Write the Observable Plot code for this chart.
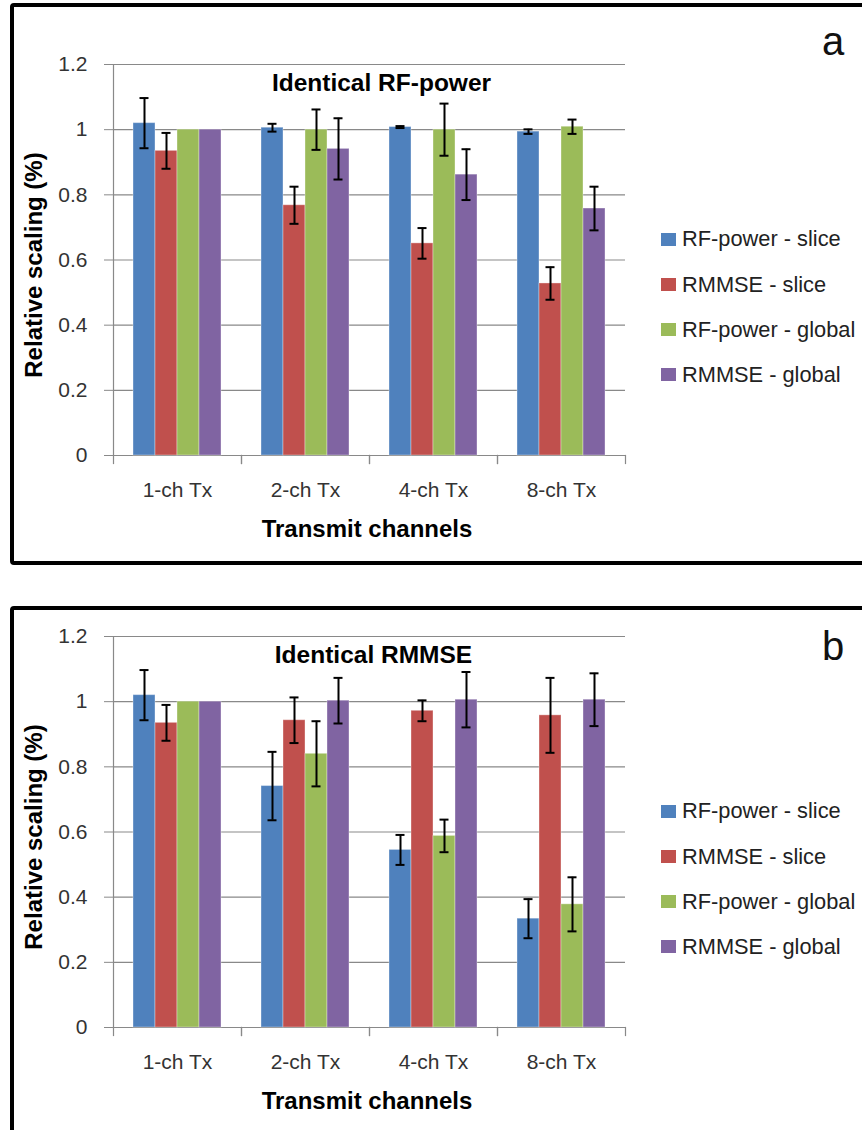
<!DOCTYPE html>
<html>
<head>
<meta charset="utf-8">
<script src="https://cdn.jsdelivr.net/npm/d3@7"></script>
<script src="https://cdn.jsdelivr.net/npm/@observablehq/plot@0.6"></script>
<style>
  html, body { margin: 0; padding: 0; background: #fff; overflow: hidden; }
  body { width: 862px; height: 1130px; position: relative; font-family: "Liberation Sans", Arial, sans-serif; }
  .panel { position: absolute; left: 10px; width: 900px; border: 4px solid #000; border-radius: 4px; box-sizing: border-box; }
  .t { position: absolute; white-space: nowrap; line-height: 1; }
  .chart { position: absolute; left: 0; }
  .sw { position: absolute; width: 15px; height: 13px; }
</style>
</head>
<body>
<script>
// ---------- data ----------
const categories = ["1-ch Tx", "2-ch Tx", "4-ch Tx", "8-ch Tx"];
const series = ["RF-power - slice", "RMMSE - slice", "RF-power - global", "RMMSE - global"];
const colors = ["#4F81BD", "#C0504D", "#9BBB59", "#8064A2"];
const yTicks = [0, 0.2, 0.4, 0.6, 0.8, 1, 1.2];

// Panel a: Identical RF-power (values per series across categories)
const aRfSlice    = [1.020, 1.006, 1.008, 0.994];
const aRmSlice    = [0.935, 0.768, 0.651, 0.528];
const aRfGlobal   = [1.000, 1.000, 1.000, 1.009];
const aRmGlobal   = [1.000, 0.941, 0.862, 0.758];
const aRfSliceErr  = [0.077, 0.012, 0.003, 0.007];
const aRmSliceErr  = [0.055, 0.057, 0.047, 0.050];
const aRfGlobalErr = [0, 0.062, 0.080, 0.022];
const aRmGlobalErr = [0, 0.094, 0.078, 0.067];

// Panel b: Identical RMMSE
const bRfSlice    = [1.020, 0.741, 0.545, 0.334];
const bRmSlice    = [0.935, 0.943, 0.972, 0.958];
const bRfGlobal   = [1.000, 0.840, 0.588, 0.378];
const bRmGlobal   = [1.000, 1.003, 1.006, 1.006];
const bRfSliceErr  = [0.077, 0.105, 0.046, 0.060];
const bRmSliceErr  = [0.055, 0.070, 0.032, 0.115];
const bRfGlobalErr = [0, 0.100, 0.050, 0.083];
const bRmGlobalErr = [0, 0.070, 0.085, 0.081];

const titleA = "Identical RF-power";
const titleB = "Identical RMMSE";
const xTitle = "Transmit channels";
const yTitle = "Relative scaling (%)";

// ---------- helpers ----------
const FONT = '"Liberation Sans", Arial, sans-serif';
const GRID = "#898989";

function buildRows(values, errors) {
  const rows = [];
  categories.forEach((c, ci) => series.forEach((s, si) => {
    rows.push({category: c, series: s, value: values[si][ci], err: errors[si][ci]});
  }));
  return rows;
}

function makeChart(values, errors) {
  const rows = buildRows(values, errors);
  const errRows = rows.filter(d => d.err > 0);
  const H = 560, mt = 64, mb = 105;
  const plotH = H - mt - mb;
  return Plot.plot({
    width: 862, height: H,
    marginTop: mt, marginBottom: mb, marginLeft: 113, marginRight: 237,
    style: {fontFamily: FONT, fontSize: "21px", color: "#333", background: "transparent", overflow: "visible"},
    fx: {domain: categories, padding: 0},
    x: {domain: series, paddingInner: 0, paddingOuter: 0.83, axis: null},
    y: {domain: [0, 1.2]},
    color: {domain: series, range: colors},
    marks: [
      Plot.ruleY(yTicks, {stroke: GRID, strokeWidth: 1.2}),
      Plot.frame({anchor: "left", facetAnchor: "left", stroke: GRID, strokeWidth: 1.2}),
      Plot.frame({anchor: "left", insetTop: plotH, insetBottom: -8, stroke: GRID, strokeWidth: 1.2}),
      Plot.frame({anchor: "right", insetTop: plotH, insetBottom: -8, stroke: GRID, strokeWidth: 1.2}),
      Plot.axisY({ticks: yTicks, tickSize: 9, tickPadding: 17, tickFormat: d => String(d), label: null, stroke: GRID, fill: "#333"}),
      Plot.axisFx({anchor: "bottom", tickSize: 0, tickPadding: 27, label: null, fill: "#333"}),
      Plot.barY(rows, {fx: "category", x: "series", y: "value", fill: "series", stroke: "#fff", strokeOpacity: 0.35, strokeWidth: 1}),
      Plot.ruleX(errRows, {fx: "category", x: "series", y1: d => d.value - d.err, y2: d => d.value + d.err, stroke: "#000", strokeWidth: 2}),
      Plot.tickY(errRows, {fx: "category", x: "series", y: d => d.value + d.err, insetLeft: 6.5, insetRight: 6.5, stroke: "#000", strokeWidth: 2}),
      Plot.tickY(errRows, {fx: "category", x: "series", y: d => d.value - d.err, insetLeft: 6.5, insetRight: 6.5, stroke: "#000", strokeWidth: 2})
    ]
  });
}

function addText(str, x, baseline, size, opts = {}) {
  const el = document.createElement("div");
  el.className = "t";
  el.textContent = str;
  el.style.fontSize = size + "px";
  el.style.fontWeight = opts.bold ? "bold" : "normal";
  el.style.color = opts.color || "#000";
  el.style.top = (baseline - 0.846 * size) + "px";
  el.style.left = x + "px";
  if (opts.anchor === "middle") el.style.transform = "translateX(-50%)";
  document.body.appendChild(el);
  return el;
}

function addRotated(str, cx, cy, size) {
  const el = document.createElement("div");
  el.className = "t";
  el.textContent = str;
  el.style.fontSize = size + "px";
  el.style.fontWeight = "bold";
  el.style.left = cx + "px";
  el.style.top = cy + "px";
  el.style.transform = "translate(-50%,-50%) rotate(-90deg)";
  document.body.appendChild(el);
}

function addLegend(firstCenter, step) {
  series.forEach((s, i) => {
    const cy = firstCenter + i * step;
    const sw = document.createElement("div");
    sw.className = "sw";
    sw.style.left = "661px";
    sw.style.top = (cy - 6.5) + "px";
    sw.style.background = colors[i];
    document.body.appendChild(sw);
    addText(s, 682, cy + 7.7, 21.8, {color: "#222"});
  });
}

function addPanel(top, height, values, errors, title, titleX, letter, letterBaseline) {
  const box = document.createElement("div");
  box.className = "panel";
  box.style.top = top.box + "px";
  box.style.height = height + "px";
  document.body.appendChild(box);

  const wrap = document.createElement("div");
  wrap.className = "chart";
  wrap.style.top = top.svg + "px";
  wrap.appendChild(makeChart(values, errors));
  document.body.appendChild(wrap);

  const o = top.svg;
  addText(title, titleX, o + 92, 24.5, {bold: true, anchor: "middle"});
  addText(xTitle, 367, o + 537, 24, {bold: true, anchor: "middle"});
  addRotated(yTitle, 34, o + 265, 24);
  addText(letter, 822, letterBaseline, 40, {color: "#111"});
  addLegend(o + 239, 45.3);
}

addPanel({box: 3, svg: 0}, 562,
  [aRfSlice, aRmSlice, aRfGlobal, aRmGlobal],
  [aRfSliceErr, aRmSliceErr, aRfGlobalErr, aRmGlobalErr],
  titleA, 381.5, "a", 55);

addPanel({box: 606, svg: 572}, 600,
  [bRfSlice, bRmSlice, bRfGlobal, bRmGlobal],
  [bRfSliceErr, bRmSliceErr, bRfGlobalErr, bRmGlobalErr],
  titleB, 373.5, "b", 660);
</script>
</body>
</html>
